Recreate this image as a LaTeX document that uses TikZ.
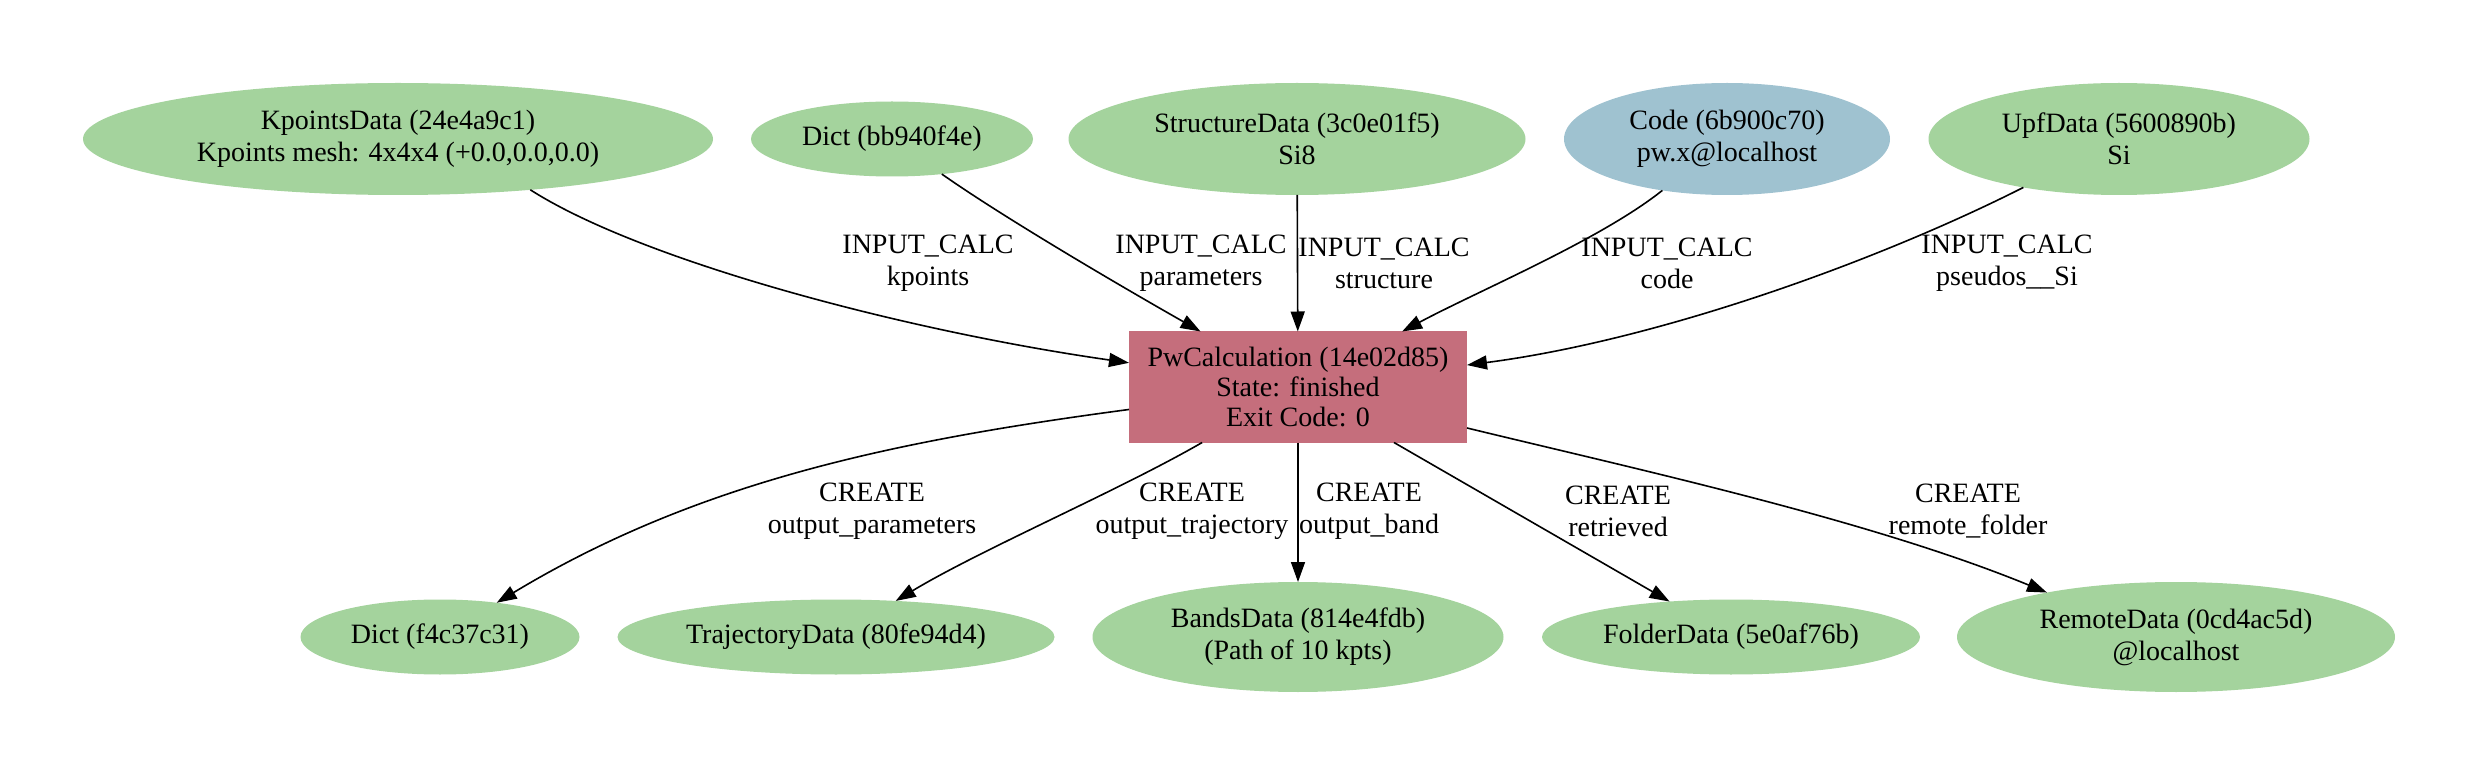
\documentclass[tikz,border=0pt]{standalone}
\usepackage{fontspec}
\setmainfont{Liberation Serif}
\usetikzlibrary{shapes.geometric,arrows.meta}
\definecolor{dgreen}{RGB}{164,211,157}
\definecolor{cblue}{RGB}{159,194,208}
\definecolor{cred}{RGB}{197,110,124}
\tikzset{
  datanode/.style={ellipse, fill=dgreen, draw=none, inner sep=0pt, outer sep=0pt, align=center},
  codenode/.style={ellipse, fill=cblue, draw=none, inner sep=0pt, outer sep=0pt, align=center},
  calcnode/.style={rectangle, fill=cred, draw=none, inner sep=0pt, outer sep=0pt, align=center},
  lbl/.style={align=center, inner sep=0pt},
  link/.style={draw=black, line width=0.8pt, -{Triangle[length=10pt,width=7pt]}},
  every node/.style={font=\fontsize{14pt}{16pt}\selectfont}
}
\begin{document}
\begin{tikzpicture}[x=0.5pt,y=-0.5pt]
\useasboundingbox (0,0) rectangle (2481,775);
% top row
\node[datanode, minimum width=315pt, minimum height=56pt] (kp) at (398,139) {KpointsData (24e4a9c1)\\Kpoints mesh: 4x4x4 (+0.0,0.0,0.0)};
\node[datanode, minimum width=141pt, minimum height=37.5pt] (d1) at (892,139) {Dict (bb940f4e)};
\node[datanode, minimum width=228.5pt, minimum height=56pt] (st) at (1297,139) {StructureData (3c0e01f5)\\Si8};
\node[codenode, minimum width=163pt, minimum height=56pt] (code) at (1727,139) {Code (6b900c70)\\pw.x@localhost};
\node[datanode, minimum width=190.5pt, minimum height=56pt] (upf) at (2119,139) {UpfData (5600890b)\\Si};
% calculation
\node[calcnode, minimum width=169pt, minimum height=55.5pt] (pw) at (1298,387) {PwCalculation (14e02d85)\\[-1pt]State: finished\\[-1pt]Exit Code: 0};
% bottom row
\node[datanode, minimum width=139.5pt, minimum height=37.5pt] (d2) at (440,637) {Dict (f4c37c31)};
\node[datanode, minimum width=218.5pt, minimum height=37.5pt] (traj) at (836,637) {TrajectoryData (80fe94d4)};
\node[datanode, minimum width=205.5pt, minimum height=55pt] (bands) at (1298,637) {BandsData (814e4fdb)\\(Path of 10 kpts)};
\node[datanode, minimum width=189pt, minimum height=37.5pt] (folder) at (1731,637) {FolderData (5e0af76b)};
\node[datanode, minimum width=219pt, minimum height=55pt] (remote) at (2176,637) {RemoteData (0cd4ac5d)\\@localhost};
% input edges
\draw[link] (kp.-21) .. controls (640,260) and (900,330) .. (pw);
\draw[link] (d1) .. controls (1000,215) and (1110,280) .. (pw);
\draw[link] (st) -- (pw);
\draw[link] (code) .. controls (1600,240) and (1480,290) .. (pw);
\draw[link] (upf) .. controls (1880,260) and (1660,340) .. (pw);
% output edges
\draw[link] (pw) .. controls (900,440) and (700,480) .. (d2);
\draw[link] (pw) .. controls (1120,490) and (980,550) .. (traj);
\draw[link] (pw) -- (bands);
\draw[link] (pw) -- (folder);
\draw[link] (pw) .. controls (1640,470) and (1870,520) .. (remote.161);
% input labels
\node[lbl] (l1) at (928,263) {INPUT\_CALC\\kpoints};
\node[lbl] (l2) at (1201,263) {INPUT\_CALC\\parameters};
\node[lbl] (l3) at (1384,263) {INPUT\_CALC\\structure};
\node[lbl] (l4) at (1667,263) {INPUT\_CALC\\code};
\node[lbl] (l5) at (2007,263) {INPUT\_CALC\\pseudos\_\_Si};
% output labels
\node[lbl] (o1) at (872,511) {CREATE\\output\_parameters};
\node[lbl] (o2) at (1192,511) {CREATE\\output\_trajectory};
\node[lbl] (o3) at (1369,511) {CREATE\\output\_band};
\node[lbl] (o4) at (1618,511) {CREATE\\retrieved};
\node[lbl] (o5) at (1968,511) {CREATE\\remote\_folder};
\end{tikzpicture}
\end{document}
